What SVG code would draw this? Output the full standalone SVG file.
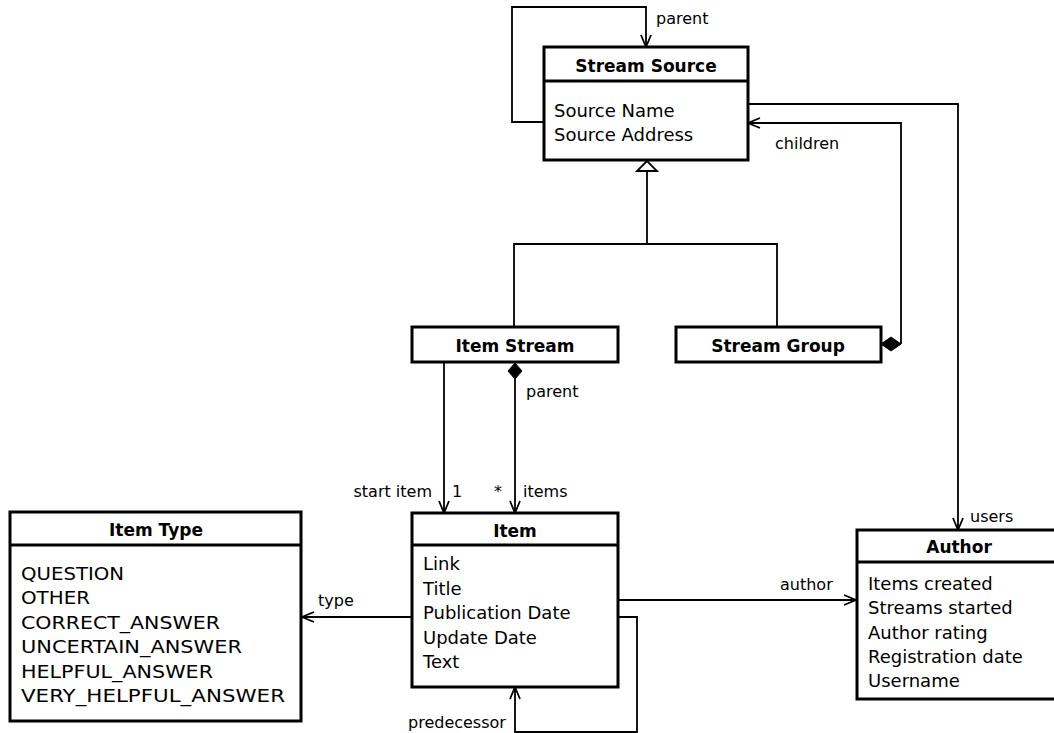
<svg xmlns="http://www.w3.org/2000/svg" width="1054" height="733" viewBox="0 0 1054 733">
<style>
.box{fill:#fff;stroke:#000;stroke-width:3}
.div{stroke:#000;stroke-width:3}
.t{font-family:"DejaVu Sans",sans-serif;font-size:18px;fill:#000}
.h{font-family:"DejaVu Sans",sans-serif;font-size:17px;font-weight:bold;fill:#000;text-anchor:middle}
.l{font-family:"DejaVu Sans",sans-serif;font-size:16px;fill:#000}
.c{fill:none;stroke:#000;stroke-width:1.8}
.ah{fill:none;stroke:#000;stroke-width:1.8}
.dm{fill:#000;stroke:#000;stroke-width:1}
</style>
<rect width="1054" height="733" fill="#fff"/>
<g id="connectors">
<polyline class="c" points="544,122 512,122 512,7 646,7 646,47"/>
<polyline class="ah" points="641,35 646,47 651,35"/>
<polyline class="c" points="514,327 514,244 777,244 777,327"/>
<line class="c" x1="647" y1="244" x2="647" y2="171"/>
<polygon points="647,161 637,171 657,171" fill="#fff" stroke="#000" stroke-width="1.8"/>
<polyline class="c" points="748,104 958,104 958,530"/>
<polyline class="ah" points="953,518 958,530 963,518"/>
<polyline class="c" points="901,344 901,123 748,123"/>
<polyline class="ah" points="760,118 748,123 760,128"/>
<polygon class="dm" points="881,344 891,337 901,344 891,351"/>
<line class="c" x1="444" y1="362" x2="444" y2="513"/>
<polyline class="ah" points="439,501 444,513 449,501"/>
<polygon class="dm" points="515,363 522,371 515,379 508,371"/>
<line class="c" x1="515" y1="379" x2="515" y2="513"/>
<polyline class="ah" points="510,501 515,513 520,501"/>
<line class="c" x1="412" y1="617" x2="302" y2="617"/>
<polyline class="ah" points="314,612 302,617 314,622"/>
<line class="c" x1="618" y1="600" x2="856" y2="600"/>
<polyline class="ah" points="844,595 856,600 844,605"/>
<polyline class="c" points="618,617 637,617 637,732 515,732 515,687"/>
<polyline class="ah" points="510,699 515,687 520,699"/>
<text class="l" x="656" y="24">parent</text>
<text class="l" x="775" y="149">children</text>
<text class="l" x="526" y="397">parent</text>
<text class="l" x="432" y="497" text-anchor="end">start item</text>
<text class="l" x="452" y="497">1</text>
<text class="l" x="494" y="497">*</text>
<text class="l" x="523" y="497">items</text>
<text class="l" x="970" y="522">users</text>
<text class="l" x="780" y="590">author</text>
<text class="l" x="318" y="606">type</text>
<text class="l" x="408" y="728">predecessor</text>
</g>
<g id="stream-source">
<rect class="box" x="544" y="47" width="204" height="113"/>
<line class="div" x1="544" y1="81" x2="748" y2="81"/>
<text class="h" x="646" y="72">Stream Source</text>
<text class="t" x="554" y="117">Source Name</text>
<text class="t" x="554" y="141">Source Address</text>
</g>
<g id="item-stream">
<rect class="box" x="412" y="327" width="206" height="35"/>
<text class="h" x="515" y="352">Item Stream</text>
</g>
<g id="stream-group">
<rect class="box" x="676" y="327" width="205" height="35"/>
<text class="h" x="778" y="352">Stream Group</text>
</g>
<g id="item-type">
<rect class="box" x="10" y="512" width="291" height="209"/>
<line class="div" x1="10" y1="545" x2="301" y2="545"/>
<text class="h" x="156" y="536">Item Type</text>
<text class="t" x="21" y="580" textLength="103" lengthAdjust="spacingAndGlyphs">QUESTION</text>
<text class="t" x="21" y="604" textLength="69" lengthAdjust="spacingAndGlyphs">OTHER</text>
<text class="t" x="21" y="629" textLength="199" lengthAdjust="spacingAndGlyphs">CORRECT_ANSWER</text>
<text class="t" x="21" y="653" textLength="221" lengthAdjust="spacingAndGlyphs">UNCERTAIN_ANSWER</text>
<text class="t" x="21" y="678" textLength="192" lengthAdjust="spacingAndGlyphs">HELPFUL_ANSWER</text>
<text class="t" x="21" y="702" textLength="264" lengthAdjust="spacingAndGlyphs">VERY_HELPFUL_ANSWER</text>
</g>
<g id="item">
<rect class="box" x="412" y="513" width="206" height="174"/>
<line class="div" x1="412" y1="545" x2="618" y2="545"/>
<text class="h" x="515" y="537">Item</text>
<text class="t" x="423" y="570">Link</text>
<text class="t" x="423" y="595">Title</text>
<text class="t" x="423" y="619">Publication Date</text>
<text class="t" x="423" y="644">Update Date</text>
<text class="t" x="423" y="668">Text</text>
</g>
<g id="author">
<rect class="box" x="857" y="530" width="204" height="169"/>
<line class="div" x1="857" y1="562" x2="1061" y2="562"/>
<text class="h" x="959" y="553">Author</text>
<text class="t" x="868" y="590">Items created</text>
<text class="t" x="868" y="614">Streams started</text>
<text class="t" x="868" y="639">Author rating</text>
<text class="t" x="868" y="663">Registration date</text>
<text class="t" x="868" y="687">Username</text>
</g>
</svg>
